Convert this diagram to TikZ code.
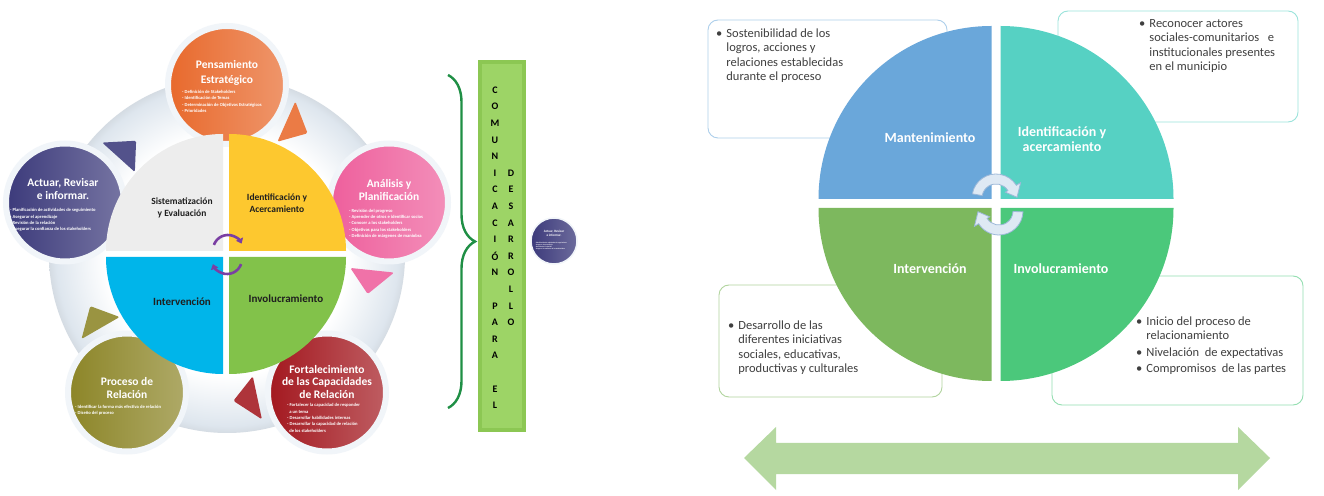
\documentclass[tikz,border=0pt]{standalone}
\usepackage{fontspec}
\setmainfont{Carlito}
\usepackage{tikz}
\usetikzlibrary{positioning, arrows.meta, calc, decorations.pathreplacing}
\definecolor{cycOrange}{HTML}{E8692C}
\definecolor{cycPink}{HTML}{EE5F9C}
\definecolor{cycRed}{HTML}{A3181F}
\definecolor{cycOlive}{HTML}{8C8527}
\definecolor{cycNavy}{HTML}{3C3A7B}
\definecolor{cycRing}{HTML}{DEE6EE}
\definecolor{cycHalo}{HTML}{F1F5F9}
\definecolor{quadGray}{HTML}{EDEDED}
\definecolor{quadYellow}{HTML}{FDC82F}
\definecolor{quadCyan}{HTML}{00B5EA}
\definecolor{quadGreen}{HTML}{82C24A}
\definecolor{cycPurple}{HTML}{7A3FA3}
\definecolor{barGreen}{HTML}{8CC753}
\definecolor{barGreenLight}{HTML}{9DD466}
\definecolor{braceGreen}{HTML}{1F8F45}
\definecolor{phaseBlue}{HTML}{6AA7DA}
\definecolor{phaseTeal}{HTML}{56D1C3}
\definecolor{phaseGreen}{HTML}{7DB85E}
\definecolor{phaseMint}{HTML}{4BC87B}
\definecolor{noteGray}{HTML}{3F3F3F}
\definecolor{flowGreen}{HTML}{B5D8A0}
\definecolor{turnFill}{HTML}{DEE9F4}
\definecolor{turnLine}{HTML}{9CB8D8}
\pgfdeclareradialshading{ringFade}{\pgfpointorigin}{color(0bp)=(white); color(17bp)=(white); color(24bp)=(cycRing); color(25bp)=(cycRing!90!gray); color(50bp)=(cycRing!90!gray)}

\begin{document}
\begin{tikzpicture}[x=1pt, y=1pt,
    stageCircle/.style={circle, minimum size=118pt, inner sep=0pt, draw=cycHalo, line width=6pt, left color=#1, right color=#1!70!white},
    stageTitle/.style={align=center, text=white, inner sep=0pt, font=\fontsize{11.5}{12.5}\selectfont\bfseries},
    stageList/.style={align=left, text=white, inner sep=0pt, anchor=west, font=\fontsize{4.6}{6.3}\selectfont\bfseries},
    quadLabel/.style={align=center, text=black!88, inner sep=0pt, font=\fontsize{9.5}{11.5}\selectfont\bfseries},
    cycArrow/.style={cycPurple, line width=2.6pt, -{Triangle[length=5pt, width=7.5pt]}},
    barLetter/.style={inner sep=0pt, font=\fontsize{10}{12}\selectfont\bfseries},
    phaseLabel/.style={align=center, text=white, inner sep=0pt, font=\fontsize{14}{15}\selectfont\bfseries},
    noteBox/.style={rectangle, rounded corners=10pt, fill=white, line width=0.9pt, inner sep=0pt},
    noteList/.style={anchor=north west, inner sep=0pt, text=noteGray, font=\fontsize{12.5}{14.4}\selectfont},
    turnArrow/.style={fill=turnFill, draw=turnLine, line width=0.8pt},
]
\useasboundingbox (0,0) rectangle (1324,495);
\fill[white] (0,0) rectangle (1324,495);
\shade[shading=ringFade] (227,240) circle[radius=178];
\foreach \ang/\col in {90/cycOrange, 18/cycPink, -54/cycRed, -126/cycOlive, 162/cycNavy}
    \fill[\col!88!white, rounded corners=1.5pt, shift={(227,240)}] ({\ang-24}:124) -- ({\ang-24}:168) -- ({\ang-33.5}:146) -- cycle;
\node[stageCircle=cycOrange] (pensamiento) at (227,410) {};
\node[stageTitle, font=\fontsize{11.5}{14.5}\selectfont\bfseries] (pensTitle) at (227,422) {Pensamiento\\Estratégico};
\node[stageList] (pensList) at (182,393.5) {- Definición de Stakeholders\\- Identificación de Temas\\- Determinación de Objetivos Estratégicos\\- Prioridades};
\node[stageCircle=cycPink] (analisis) at (389,292.5) {};
\node[stageTitle, font=\fontsize{11.5}{13.5}\selectfont\bfseries] (anaTitle) at (389,305) {Análisis y\\Planificación};
\node[stageList] (anaList) at (349,271.5) {- Revisión del progreso\\- Aprender de otros e identificar socios\\- Conocer a los stakeholders\\- Objetivos para los stakeholders\\- Definición de márgenes de maniobra};
\node[stageCircle=cycRed] (fortalecimiento) at (327,102.5) {};
\node[stageTitle] (fortTitle) at (327,113) {Fortalecimiento\\de las Capacidades\\de Relación};
\node[stageList] (fortList) at (287,77) {- Fortalecer la capacidad de responder\\\ \ a un tema\\- Desarrollar habilidades internas\\- Desarrollar la capacidad de relación\\\ \ de los stakeholders};
\node[stageCircle=cycOlive] (proceso) at (127,102.5) {};
\node[stageTitle] (procTitle) at (127,107) {Proceso de\\Relación};
\node[stageList] (procList) at (75,85) {- Identificar la forma más efectiva de relación\\- Diseño del proceso};
\node[stageCircle=cycNavy] (actuar) at (65,292.5) {};
\node[stageTitle] (actTitle) at (63,306) {Actuar, Revisar\\e informar.};
\node[stageList] (actList) at (10,275) {- Planificación de actividades de seguimiento\\- Asegurar el aprendizaje\\- Revisión de la relación\\- Asegurar la confianza de los stakeholders};
\fill[quadGray] (223,244) -- ++(0,117) arc[start angle=90, end angle=180, radius=117] -- cycle;
\fill[quadYellow] (229,244) -- ++(117,0) arc[start angle=0, end angle=90, radius=117] -- cycle;
\fill[quadCyan] (223,238) -- ++(-117,0) arc[start angle=180, end angle=270, radius=117] -- cycle;
\fill[quadGreen] (229,238) -- ++(0,-117) arc[start angle=270, end angle=360, radius=117] -- cycle;
\node[quadLabel] (sistLabel) at (182,287) {Sistematización\\y Evaluación};
\node[quadLabel] (identLabel) at (277,292) {Identificación y\\Acercamiento};
\node[quadLabel, font=\fontsize{11}{13}\selectfont\bfseries] (intLabel) at (182,193) {Intervención};
\node[quadLabel, font=\fontsize{11}{13}\selectfont\bfseries] (invLabel) at (286,196) {Involucramiento};
\draw[cycArrow, shift={(228,245)}] (160:15) arc[start angle=160, end angle=25, radius=15];
\draw[cycArrow, shift={(227,236)}] (-20:15) arc[start angle=-20, end angle=-160, radius=15];
\coordinate (braceTop) at (448,420);
\coordinate (braceBot) at (448,87);
\draw[braceGreen, line width=2.4pt, decorate, decoration={brace, amplitude=27pt, aspect=0.5}] (braceTop) -- (braceBot);
\node[rectangle, fill=barGreen, minimum width=48pt, minimum height=372pt, inner sep=0pt] (comBar) at (502,249) {};
\fill[barGreenLight] ($(comBar.south west)+(4,4)$) rectangle ($(comBar.north east)-(4,4)$);
\foreach \c [count=\i from 0] in {C,O,M,U,N,I,C,A,C,I,Ó,N,{},P,A,R,A,{},E,L}
    \node[barLetter] (com\i) at (495, 405-16.6*\i) {\c};
\foreach \c [count=\i from 5] in {D,E,S,A,R,R,O,L,L,O}
    \node[barLetter] (des\i) at (511, 405-16.6*\i) {\c};
\node[circle, minimum size=46pt, inner sep=0pt, left color=cycNavy, right color=cycNavy!75!white, draw=cycHalo, line width=1.5pt] (miniActuar) at (554,254) {};
\node[text=white, align=center, inner sep=0pt, font=\fontsize{3.3}{3.8}\selectfont\bfseries] (miniTitle) at (554,262) {Actuar, Revisar\\e informar.};
\node[text=white, align=left, inner sep=0pt, anchor=west, font=\fontsize{1.7}{2.1}\selectfont\bfseries] (miniList) at (535,249) {- Planificación de actividades de seguimiento\\- Asegurar el aprendizaje\\- Revisión de la relación\\- Asegurar la confianza de los stakeholders};
\node[noteBox, draw=phaseBlue!55, minimum width=239pt, minimum height=118pt] (boxMant) at (827.5,416) {};
\node[noteBox, draw=phaseTeal!60, minimum width=240pt, minimum height=111pt] (boxIdent) at (1178,428.5) {};
\node[noteBox, draw=phaseGreen!60, minimum width=223pt, minimum height=112pt] (boxInter) at (830.5,154) {};
\node[noteBox, draw=phaseMint!60, minimum width=251pt, minimum height=129pt] (boxInvol) at (1177.5,154.5) {};
\fill[phaseBlue] (991.5,296) -- ++(-173,0) arc[start angle=180, end angle=90, radius=173] -- cycle;
\fill[phaseTeal] (1000.5,296) -- ++(0,173) arc[start angle=90, end angle=0, radius=173] -- cycle;
\fill[phaseGreen] (991.5,287) -- ++(0,-173) arc[start angle=270, end angle=180, radius=173] -- cycle;
\fill[phaseMint] (1000.5,287) -- ++(173,0) arc[start angle=0, end angle=-90, radius=173] -- cycle;
\node[phaseLabel] (mantLabel) at (930,357) {Mantenimiento};
\node[phaseLabel] (acerLabel) at (1062,356) {Identificación y\\acercamiento};
\node[phaseLabel] (interLabel) at (930,226) {Intervención};
\node[phaseLabel] (involLabel) at (1061,226) {Involucramiento};
\node[noteList] (listMant) at (716,468) {\begin{tabular}{@{}l@{\hspace{4pt}}l@{}}\textbullet & Sostenibilidad de los\\ & logros, acciones y\\ & relaciones establecidas\\ & durante el proceso\end{tabular}};
\node[noteList] (listIdent) at (1139,478) {\begin{tabular}{@{}l@{\hspace{4pt}}l@{}}\textbullet & Reconocer actores\\ & sociales-comunitarios\ \ \ e\\ & institucionales presentes\\ & en el municipio\end{tabular}};
\node[noteList] (listInter) at (728,176) {\begin{tabular}{@{}l@{\hspace{4pt}}l@{}}\textbullet & Desarrollo de las\\ & diferentes iniciativas\\ & sociales, educativas,\\ & productivas y culturales\end{tabular}};
\node[noteList] (listInvol) at (1136,180) {\begin{tabular}{@{}l@{\hspace{4pt}}l@{}}\textbullet & Inicio del proceso de\\ & relacionamiento\\[2pt] \textbullet & Nivelación\ \ de expectativas\\[2pt] \textbullet & Compromisos\ \ de las partes\end{tabular}};
\filldraw[turnArrow, shift={(996,297)}] (170:24) arc[start angle=170, end angle=32, radius=24] -- (32:29) -- (2:21) -- (32:11) -- (32:14) arc[start angle=32, end angle=170, radius=14] -- cycle;
\filldraw[turnArrow, shift={(999,284)}] (-2:24) arc[start angle=-2, end angle=-148, radius=24] -- (-148:29) -- (-178:21) -- (-148:11) -- (-148:14) arc[start angle=-148, end angle=-2, radius=14] -- cycle;
\fill[flowGreen] (744,37) -- (776,68) -- (776,52) -- (1238,52) -- (1238,68) -- (1270,37) -- (1238,5) -- (1238,21) -- (776,21) -- (776,5) -- cycle;
\end{tikzpicture}
\end{document}
